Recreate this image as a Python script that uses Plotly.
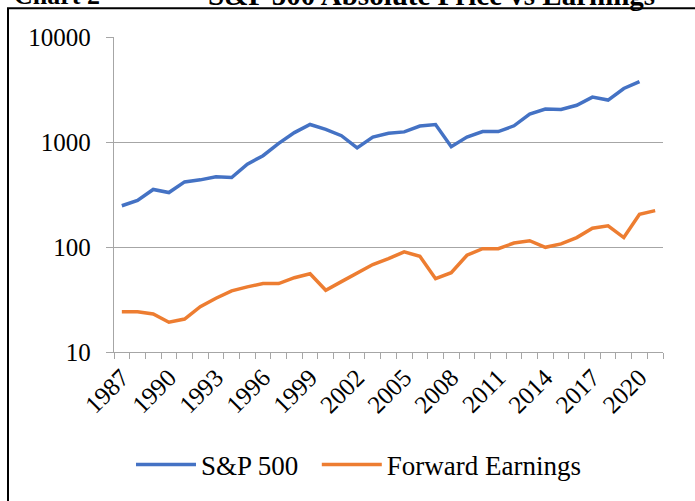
import plotly.graph_objects as go

# Year-end S&P 500 level and forward earnings
years = list(range(1987, 2022))
sp500 = [
    247, 278, 353, 330, 417, 436, 467, 459, 616, 741,
    970, 1229, 1469, 1320, 1148, 880, 1112, 1212, 1248, 1418,
    1468, 903, 1115, 1258, 1258, 1426, 1848, 2059, 2044, 2239,
    2674, 2507, 3231, 3756,
]
fwd_earnings = [
    24.2, 24.2, 23.0, 19.2, 20.6, 27.0, 32.5, 38.2, 41.7, 44.8,
    44.8, 51.0, 55.6, 38.7, 46.8, 56.9, 68.1, 77.6, 89.8, 81.7,
    49.9, 56.9, 83.5, 96.4, 96.4, 109, 114.8, 99.3, 107, 123,
    151, 159, 123, 205, 222,
]
label_years = [1987, 1990, 1993, 1996, 1999, 2002, 2005, 2008, 2011, 2014, 2017, 2020]
y_ticks = [10, 100, 1000, 10000]

SERIF = "Liberation Serif, Times New Roman, serif"
GRID = "#a6a6a6"
BLUE = "#4472c4"
ORANGE = "#ed7d31"

fig = go.Figure()
fig.add_trace(go.Scatter(
    x=years[:len(sp500)], y=sp500, mode="lines",
    name="S&P 500\u00a0\u00a0",  # padding widens the gap to the next entry
    line=dict(color=BLUE, width=3.5),
))
fig.add_trace(go.Scatter(
    x=years, y=fwd_earnings, mode="lines", name="Forward Earnings",
    line=dict(color=ORANGE, width=3.5),
))

# plot area: x 114..663 px, y 37..355 px
W, H = 695, 501
L, R, T, B = 114, 32, 37, 146
pw, ph = W - L - R, H - T - B


def px_x(p):
    return (p - L) / pw


def px_y(p):
    return (H - B - p) / ph


# outer frame of the document figure (runs past the bottom/right edges)
fig.add_shape(
    type="rect", xref="paper", yref="paper",
    x0=px_x(8), x1=px_x(760), y0=px_y(560), y1=px_y(8),
    line=dict(color="black", width=2), fillcolor="rgba(0,0,0,0)",
)

# title line, mostly cut off by the top of the crop
fig.add_annotation(
    text="<b>Chart 2</b>", xref="paper", yref="paper",
    x=px_x(12), y=px_y(12), xanchor="left", yanchor="bottom",
    showarrow=False, font=dict(family=SERIF, size=26, color="black"),
)
fig.add_annotation(
    text="<b>S&P 500 Absolute Price vs Earnings</b>", xref="paper", yref="paper",
    x=px_x(206), y=px_y(13), xanchor="left", yanchor="bottom",
    showarrow=False, font=dict(family=SERIF, size=29, color="black"),
)

fig.update_layout(
    width=W, height=H,
    margin=dict(l=L, r=R, t=T, b=B),
    paper_bgcolor="white",
    plot_bgcolor="white",
    font=dict(family=SERIF, size=25, color="black"),
    legend=dict(
        orientation="h", x=px_x(131), y=px_y(469),
        xanchor="left", yanchor="middle",
        font=dict(family=SERIF, size=27, color="black"),
        itemwidth=60, bgcolor="rgba(0,0,0,0)",
    ),
    xaxis=dict(
        range=[1986.5, 2021.5],
        tickvals=label_years, ticktext=[str(y) for y in label_years],
        tickangle=-45, ticks="", showgrid=False, zeroline=False,
        showline=True, linecolor=GRID, linewidth=1.3,
        minor=dict(tick0=1986.5, dtick=1, ticks="outside", ticklen=6,
                   tickcolor=GRID, tickwidth=1.3, showgrid=False),
        tickfont=dict(family=SERIF, size=25),
    ),
    yaxis=dict(
        type="log", range=[1, 4],
        tickvals=y_ticks, ticktext=[str(v) for v in y_ticks],
        ticks="outside", ticklen=7, tickcolor=GRID, tickwidth=1.3,
        showgrid=True, gridcolor=GRID, gridwidth=1.3,
        showline=True, linecolor=GRID, linewidth=1.3,
        ticklabelstandoff=10,
        tickfont=dict(family=SERIF, size=25),
    ),
)

# drop the browser's default 8px body margin so the figure sits at (0, 0)
fig.write_html(
    "out.html",
    config={"displayModeBar": False},
    post_script="document.body.style.margin='0';",
)
